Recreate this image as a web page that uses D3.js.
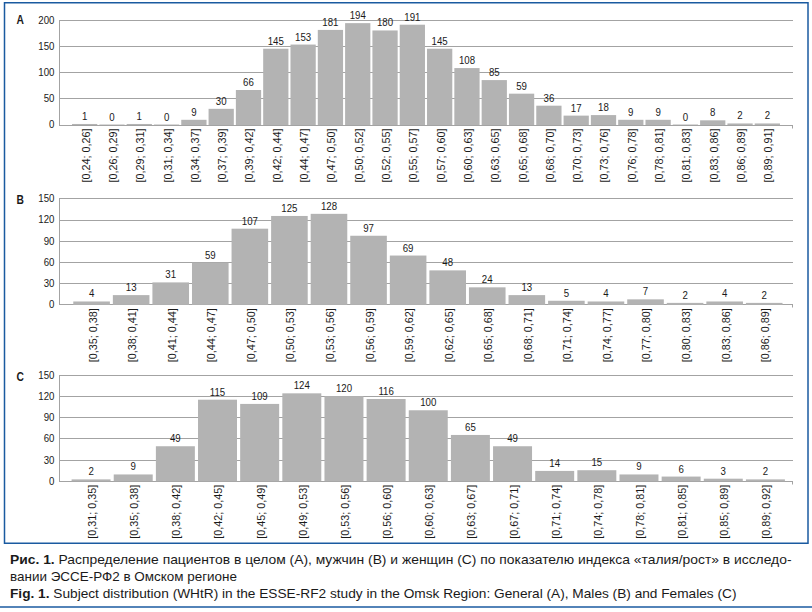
<!DOCTYPE html>
<html>
<head>
<meta charset="utf-8">
<script src="https://cdn.jsdelivr.net/npm/d3@7/dist/d3.min.js"></script>
<style>
  html, body { margin: 0; padding: 0; background: #fff; }
  svg { display: block; }
</style>
</head>
<body>
<svg id="chart" width="812" height="612"></svg>
<script>
// ---------- DATA ----------
const catsA = ["[0,24; 0,26]","[0,26; 0,29]","[0,29; 0,31]","[0,31; 0,34]","[0,34; 0,37]","[0,37; 0,39]","[0,39; 0,42]","[0,42; 0,44]","[0,44; 0,47]","[0,47; 0,50]","[0,50; 0,52]","[0,52; 0,55]","[0,55; 0,57]","[0,57; 0,60]","[0,60; 0,63]","[0,63; 0,65]","[0,65; 0,68]","[0,68; 0,70]","[0,70; 0,73]","[0,73; 0,76]","[0,76; 0,78]","[0,78; 0,81]","[0,81; 0,83]","[0,83; 0,86]","[0,86; 0,89]","[0,89; 0,91]"];
const valsA = [1,0,1,0,9,30,66,145,153,181,194,180,191,145,108,85,59,36,17,18,9,9,0,8,2,2];
const ticksA = [0,50,100,150,200];

const catsB = ["[0,35; 0,38]","[0,38; 0,41]","[0,41; 0,44]","[0,44; 0,47]","[0,47; 0,50]","[0,50; 0,53]","[0,53; 0,56]","[0,56; 0,59]","[0,59; 0,62]","[0,62; 0,65]","[0,65; 0,68]","[0,68; 0,71]","[0,71; 0,74]","[0,74; 0,77]","[0,77; 0,80]","[0,80; 0,83]","[0,83; 0,86]","[0,86; 0,89]"];
const valsB = [4,13,31,59,107,125,128,97,69,48,24,13,5,4,7,2,4,2];
const ticksB = [0,30,60,90,120,150];

const catsC = ["[0,31; 0,35]","[0,35; 0,38]","[0,38; 0,42]","[0,42; 0,45]","[0,45; 0,49]","[0,49; 0,53]","[0,53; 0,56]","[0,56; 0,60]","[0,60; 0,63]","[0,63; 0,67]","[0,67; 0,71]","[0,71; 0,74]","[0,74; 0,78]","[0,78; 0,81]","[0,81; 0,85]","[0,85; 0,89]","[0,89; 0,92]"];
const valsC = [2,9,49,115,109,124,120,116,100,65,49,14,15,9,6,3,2];
const ticksC = [0,30,60,90,120,150];

const panelLetters = ["A","B","C"];
const captionRuBold = "Рис. 1.";
const captionRu1 = " Распределение пациентов в целом (А), мужчин (В) и женщин (С) по показателю индекса «талия/рост» в исследо-";
const captionRu2 = "вании ЭССЕ-РФ2 в Омском регионе";
const captionEnBold = "Fig. 1.";
const captionEn = " Subject distribution (WHtR) in the ESSE-RF2 study in the Omsk Region: General (A), Males (B) and Females (C)";

// ---------- LAYOUT ----------
const SANS = "'Liberation Sans',Arial,Helvetica,sans-serif";
const SQ = 0.88; // horizontal squeeze to imitate a condensed face
const BAR = "#b3b3b3", GRID = "#a3a3a3", TXT = "#1a1a1a", FRAME = "#1a5aa0";
const plotLeft = 59, plotRight = 793;
const catLabelLen = 54;

const panels = [
  {letter: panelLetters[0], cats: catsA, vals: valsA, ticks: ticksA, top: 20,    bottom: 124.5, x0: 71,   x1: 781,   letterY: 24},
  {letter: panelLetters[1], cats: catsB, vals: valsB, ticks: ticksB, top: 198.3, bottom: 304.3, x0: 71.8, x1: 784,   letterY: 204},
  {letter: panelLetters[2], cats: catsC, vals: valsC, ticks: ticksC, top: 375,   bottom: 480.8, x0: 70,   x1: 786.5, letterY: 380.5}
];

const svg = d3.select("#chart");

// frame
svg.append("rect").attr("x", 4.5).attr("y", 2.75).attr("width", 803.5).attr("height", 540.5)
  .attr("fill", "none").attr("stroke", FRAME).attr("stroke-width", 1.5);
svg.append("line").attr("x1", 0).attr("x2", 812).attr("y1", 607).attr("y2", 607)
  .attr("stroke", FRAME).attr("stroke-width", 1.5);

panels.forEach(p => {
  const g = svg.append("g");
  const yMax = p.ticks[p.ticks.length - 1];
  const y = d3.scaleLinear().domain([0, yMax]).range([p.bottom, p.top]);
  const x = d3.scaleBand().domain(p.cats).range([p.x0, p.x1]).paddingInner(0.075).paddingOuter(0.0375);

  // gridlines
  g.selectAll("line.grid").data(p.ticks).join("line")
    .attr("class", "grid")
    .attr("x1", plotLeft).attr("x2", plotRight)
    .attr("y1", d => Math.round(y(d)) + 0.5).attr("y2", d => Math.round(y(d)) + 0.5)
    .attr("stroke", GRID).attr("stroke-width", 1);
  // vertical axis line
  g.append("line").attr("x1", plotLeft + 0.5).attr("x2", plotLeft + 0.5)
    .attr("y1", Math.round(y(yMax)) + 0.5).attr("y2", Math.round(y(0)) + 0.5)
    .attr("stroke", GRID).attr("stroke-width", 1);
  // right end tick
  g.append("line").attr("x1", plotRight - 0.5).attr("x2", plotRight - 0.5)
    .attr("y1", Math.round(y(0)) + 0.5).attr("y2", Math.round(y(0)) + 3.5)
    .attr("stroke", GRID).attr("stroke-width", 1);

  // y tick labels
  g.selectAll("text.ytick").data(p.ticks).join("text")
    .attr("class", "ytick")
    .attr("transform", d => `translate(54.5,${y(d)}) scale(${SQ},1)`)
    .attr("dy", "0.36em")
    .attr("text-anchor", "end")
    .attr("font-family", SANS).attr("font-size", 11).attr("fill", TXT)
    .text(d => d);

  // panel letter
  g.append("text").attr("transform", `translate(16.5,${p.letterY}) scale(0.82,1)`)
    .attr("font-family", SANS).attr("font-weight", "bold").attr("font-size", 12.5).attr("fill", TXT)
    .text(p.letter);

  const data = p.cats.map((c, i) => ({c, v: p.vals[i]}));

  // bars
  g.selectAll("rect.bar").data(data).join("rect")
    .attr("class", "bar")
    .attr("x", d => x(d.c)).attr("width", x.bandwidth())
    .attr("y", d => y(d.v)).attr("height", d => y(0) - y(d.v) + 0.5)
    .attr("fill", BAR);

  // value labels
  g.selectAll("text.val").data(data).join("text")
    .attr("class", "val")
    .attr("transform", d => `translate(${x(d.c) + x.bandwidth() / 2},${y(d.v) - 4}) scale(${SQ},1)`)
    .attr("text-anchor", "middle")
    .attr("font-family", SANS).attr("font-size", 11).attr("fill", TXT)
    .text(d => d.v);

  // category labels (rotated)
  g.selectAll("text.cat").data(data).join("text")
    .attr("class", "cat")
    .attr("transform", d => `translate(${x(d.c) + x.bandwidth() / 2 + 1},${y(0) + 4}) rotate(-90)`)
    .attr("dy", "0.36em")
    .attr("text-anchor", "end")
    .attr("font-family", SANS).attr("font-size", 11).attr("fill", TXT)
    .attr("textLength", catLabelLen).attr("lengthAdjust", "spacingAndGlyphs")
    .text(d => d.c);
});

// caption
function captionLine(yPos, boldPart, rest, width) {
  const t = svg.append("text").attr("x", 10).attr("y", yPos)
    .attr("font-family", SANS).attr("font-size", 13).attr("fill", TXT);
  if (boldPart) t.append("tspan").attr("font-weight", "bold").text(boldPart);
  t.append("tspan").text(rest);
  t.attr("textLength", width).attr("lengthAdjust", "spacingAndGlyphs");
}
captionLine(564, captionRuBold, captionRu1, 781.5);
captionLine(581, null, captionRu2, 227);
captionLine(597.5, captionEnBold, captionEn, 726.5);
</script>
</body>
</html>
